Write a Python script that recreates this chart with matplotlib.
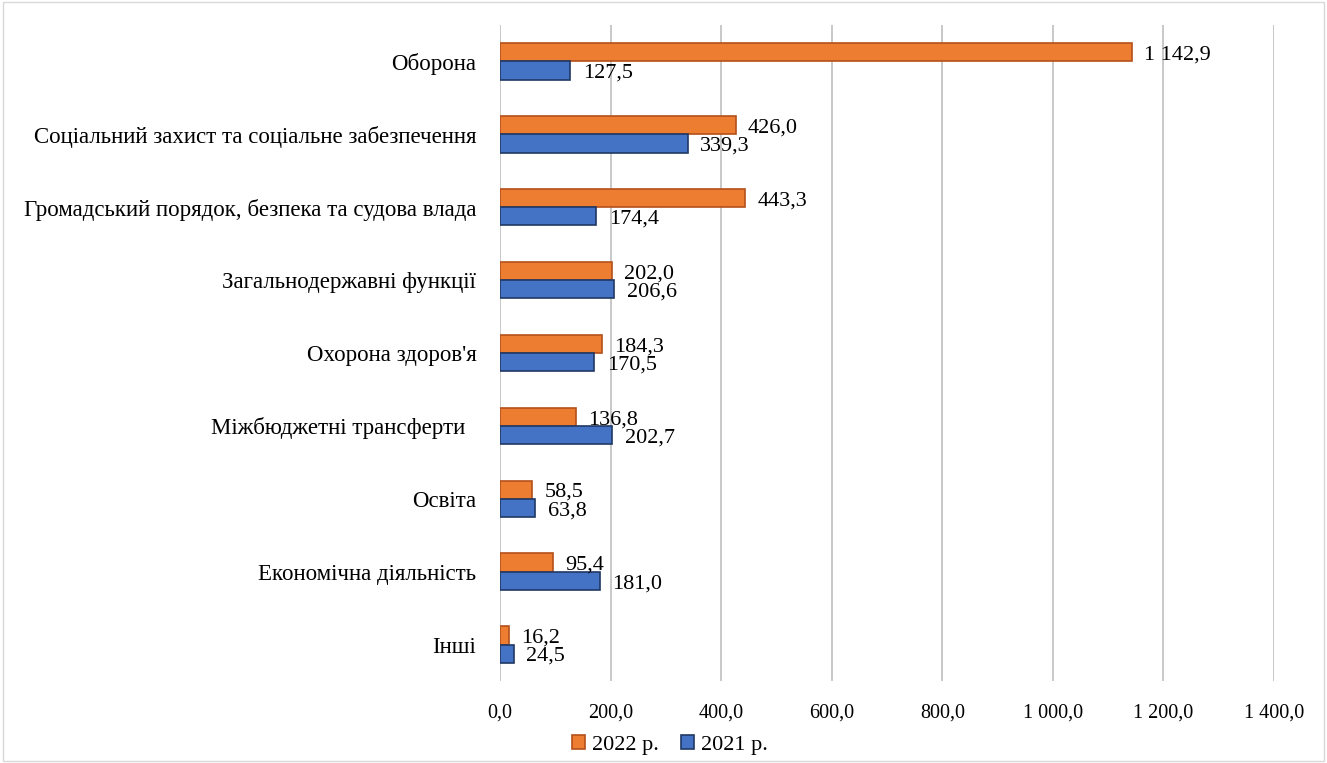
import matplotlib.pyplot as plt
import numpy as np
from matplotlib.patches import Rectangle

categories = ["Оборона",
              "Соціальний захист та соціальне забезпечення",
              "Громадський порядок, безпека та судова влада",
              "Загальнодержавні функції",
              "Охорона здоров'я",
              "Міжбюджетні трансферти  ",
              "Освіта",
              "Економічна діяльність",
              "Інші"]
values_2022 = [1142.9, 426.0, 443.3, 202.0, 184.3, 136.8, 58.5, 95.4, 16.2]
values_2021 = [127.5, 339.3, 174.4, 206.6, 170.5, 202.7, 63.8, 181.0, 24.5]
xticks = [0, 200, 400, 600, 800, 1000, 1200, 1400]

def fmt(v):
    s = "{:,.1f}".format(v)
    return s.replace(",", " ").replace(".", ",")

plt.rcParams['font.family'] = ['Liberation Serif', 'DejaVu Serif']

fig = plt.figure(figsize=(13.27, 7.63), dpi=100)
ax = fig.add_axes([500 / 1327, 1 - 681 / 763, 774 / 1327, 656 / 763])

y = np.arange(len(categories))
h = 0.25
b1 = ax.barh(y - h / 2, values_2022, height=h, color='#ED7D31', edgecolor='#B4501A',
             linewidth=1.2, label='2022 р.', zorder=3)
b2 = ax.barh(y + h / 2, values_2021, height=h, color='#4472C4', edgecolor='#203864',
             linewidth=1.2, label='2021 р.', zorder=3)

# підписи значень
for v, yy in zip(values_2022, y - h / 2):
    ax.annotate(fmt(v), (v, yy), xytext=(9, -2), textcoords='offset points',
                va='center', ha='left', fontsize=16)
for v, yy in zip(values_2021, y + h / 2):
    ax.annotate(fmt(v), (v, yy), xytext=(9, -2), textcoords='offset points',
                va='center', ha='left', fontsize=16)

ax.set_ylim(len(categories) - 0.5, -0.5)
ax.set_xlim(0, 1400)
ax.set_yticks(y)
ax.set_yticklabels(categories, fontsize=16.5)
ax.set_xticks(xticks)
ax.set_xticklabels([fmt(t) for t in xticks], fontsize=14.5)
ax.tick_params(length=0, pad=17, axis='y')
ax.tick_params(axis='x', length=0, pad=16)
ax.grid(axis='x', color='#BFBFBF', linewidth=1.2, zorder=0)
for s in ax.spines.values():
    s.set_visible(False)

fig.legend(handles=[b1, b2], loc='center', bbox_to_anchor=(670 / 1327, 1 - 745 / 763),
           ncol=2, frameon=False, fontsize=16, handlelength=0.6, handleheight=0.6,
           handletextpad=0.3, columnspacing=1.0)

fig.patches.append(Rectangle((0.002, 0.002), 0.996, 0.996, transform=fig.transFigure,
                             fill=False, edgecolor='#D9D9D9', linewidth=1))

fig.savefig('out.png', dpi=100)
